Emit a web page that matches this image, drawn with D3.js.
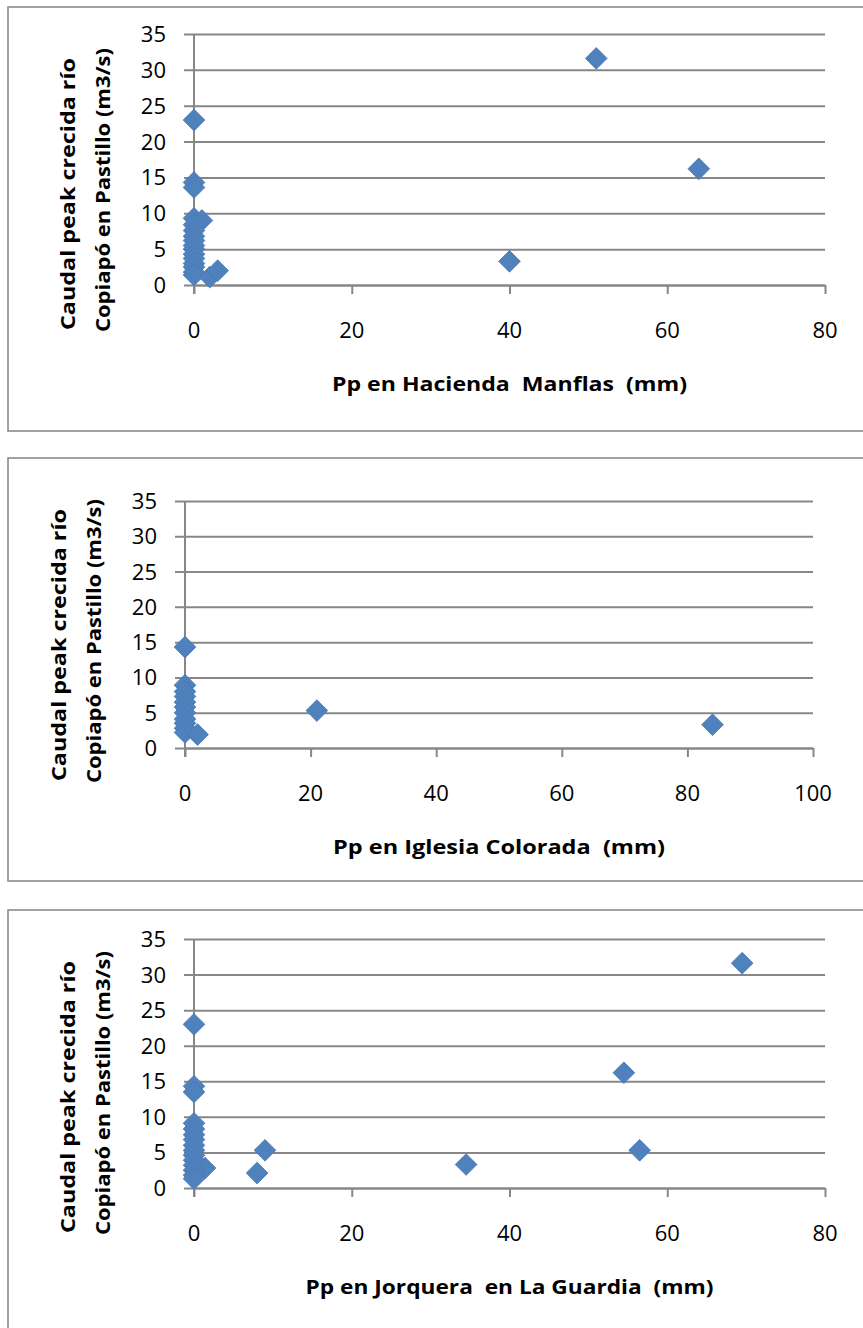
<!DOCTYPE html>
<html>
<head>
<meta charset="utf-8">
<script src="https://cdn.jsdelivr.net/npm/d3@7"></script>
<style>
  body { margin: 0; background: #fff; }
  svg { display: block; }
  text.ttl { white-space: pre; }
</style>
</head>
<body>
<svg id="chart" width="863" height="1328"></svg>
<script>
// Peak flood discharge of the Copiapó river at Pastillo vs. precipitation at three stations
const qTicks = [0, 5, 10, 15, 20, 25, 30, 35];

// Hacienda Manflas
const manflasTicks = [0, 20, 40, 60, 80];
const manflasPp = [51, 64, 40, 0, 0, 0, 0, 1, 0, 0, 0, 0, 0, 0, 0, 0, 0, 0, 0, 0, 2, 3];
const manflasQ  = [31.6, 16.2, 3.3, 23, 14.3, 13.6, 9.3, 9.0, 8.4, 7.6, 6.8, 6.2, 5.5, 5.0, 4.3, 3.7, 3.0, 2.5, 1.8, 1.4, 1.1, 2.0];

// Iglesia Colorada
const iglesiaTicks = [0, 20, 40, 60, 80, 100];
const iglesiaPp = [84, 21, 0, 0, 0, 0, 0, 0, 0, 0, 0, 0, 0, 2];
const iglesiaQ  = [3.3, 5.3, 14.3, 8.9, 8.0, 7.3, 6.5, 5.8, 5.0, 4.1, 3.5, 2.8, 2.2, 1.9];

// Jorquera en La Guardia
const jorqueraTicks = [0, 20, 40, 60, 80];
const jorqueraPp = [69.5, 54.5, 56.5, 34.5, 9, 8, 1.4, 0, 0, 0, 0, 0, 0, 0, 0, 0, 0, 0, 0, 0, 0, 0];
const jorqueraQ  = [31.6, 16.2, 5.3, 3.3, 5.3, 2.1, 2.8, 23, 14.3, 13.5, 9.1, 8.3, 7.5, 6.8, 6.0, 5.3, 4.6, 3.9, 3.2, 2.5, 1.8, 1.3];

const yTitle1 = "Caudal peak crecida río";
const yTitle2 = "Copiapó en Pastillo (m3/s)";

const panels = [
  { top: 7,   bottom: 431,  ax: 194, ax1: 825, y0: 285,  y1: 34,  xMax: 80,  ticks: manflasTicks,  pp: manflasPp,  q: manflasQ,
    title: "Pp en Hacienda  Manflas  (mm)", titleLen: 355 },
  { top: 458, bottom: 881,  ax: 185, ax1: 813, y0: 748,  y1: 501, xMax: 100, ticks: iglesiaTicks,  pp: iglesiaPp,  q: iglesiaQ,
    title: "Pp en Iglesia Colorada  (mm)", titleLen: 332 },
  { top: 910, bottom: 1400, ax: 194, ax1: 825, y0: 1188, y1: 939, xMax: 80,  ticks: jorqueraTicks, pp: jorqueraPp, q: jorqueraQ,
    title: "Pp en Jorquera  en La Guardia  (mm)", titleLen: 408 }
];

const svg = d3.select("#chart");
const gridColor = "#878787";
const markerColor = "#4f81bd";
const font = "'Open Sans', 'Noto Sans', sans-serif";

panels.forEach(p => {
  const g = svg.append("g");

  // chart frame (runs past the right edge of the page)
  g.append("rect")
    .attr("x", 8).attr("y", p.top)
    .attr("width", 900).attr("height", p.bottom - p.top)
    .attr("fill", "#fff").attr("stroke", "#8a8a8a").attr("stroke-width", 1.6);

  const x = d3.scaleLinear().domain([0, p.xMax]).range([p.ax, p.ax1]);
  const y = d3.scaleLinear().domain([0, 35]).range([p.y0, p.y1]);

  // horizontal gridlines with left tick marks
  const yAxis = d3.axisLeft(y).tickValues(qTicks)
    .tickSize(-(p.ax1 - p.ax)).tickSizeOuter(0).tickPadding(0).tickFormat("");
  const yg = g.append("g").attr("transform", `translate(${p.ax},0)`).call(yAxis);
  yg.select(".domain").remove();
  yg.selectAll(".tick line").attr("stroke", gridColor).attr("stroke-width", 2)
    .attr("x1", -10);

  // y tick labels
  g.selectAll(".ylab").data(qTicks).join("text")
    .attr("x", p.ax - 28).attr("y", d => y(d) + 8)
    .attr("text-anchor", "end")
    .attr("font-family", font).attr("font-size", 22).attr("fill", "#000")
    .text(d => d);

  // vertical axis line
  g.append("line")
    .attr("x1", p.ax).attr("x2", p.ax).attr("y1", y(35)).attr("y2", y(0) + 9)
    .attr("stroke", gridColor).attr("stroke-width", 2);

  // x axis
  const xAxis = d3.axisBottom(x).tickValues(p.ticks).tickSize(9).tickSizeOuter(0).tickFormat("");
  const xg = g.append("g").attr("transform", `translate(0,${p.y0})`).call(xAxis);
  xg.select(".domain").attr("stroke", gridColor).attr("stroke-width", 2);
  xg.selectAll(".tick line").attr("stroke", gridColor).attr("stroke-width", 2);

  g.selectAll(".xlab").data(p.ticks).join("text")
    .attr("x", d => x(d)).attr("y", p.y0 + 53)
    .attr("text-anchor", "middle")
    .attr("font-family", font).attr("font-size", 22).attr("fill", "#000")
    .text(d => d);

  // x axis title
  g.append("text").attr("class", "ttl")
    .attr("x", (p.ax + p.ax1) / 2).attr("y", p.y0 + 106)
    .attr("text-anchor", "middle")
    .attr("font-family", font).attr("font-size", 20).attr("font-weight", "bold")
    .attr("textLength", p.titleLen).attr("lengthAdjust", "spacingAndGlyphs")
    .text(p.title);

  // y axis title, two rotated lines
  const cy = p.top + 187;
  g.append("text")
    .attr("transform", `translate(${p.ax - 119},${cy}) rotate(-90)`)
    .attr("text-anchor", "middle")
    .attr("font-family", font).attr("font-size", 20).attr("font-weight", "bold")
    .attr("textLength", 272).attr("lengthAdjust", "spacingAndGlyphs")
    .text(yTitle1);
  g.append("text")
    .attr("transform", `translate(${p.ax - 84},${cy - 4}) rotate(-90)`)
    .attr("text-anchor", "middle")
    .attr("font-family", font).attr("font-size", 20).attr("font-weight", "bold")
    .attr("textLength", 284).attr("lengthAdjust", "spacingAndGlyphs")
    .text(yTitle2);

  // diamond markers
  const diamond = d3.symbol().type(d3.symbolSquare).size(235);
  g.selectAll(".pt").data(p.pp.map((v, i) => [v, p.q[i]])).join("path")
    .attr("d", diamond)
    .attr("transform", d => `translate(${x(d[0])},${y(d[1])}) rotate(45)`)
    .attr("fill", markerColor)
    .attr("stroke", "#4a7ab4").attr("stroke-width", 0.8);
});
</script>
</body>
</html>
